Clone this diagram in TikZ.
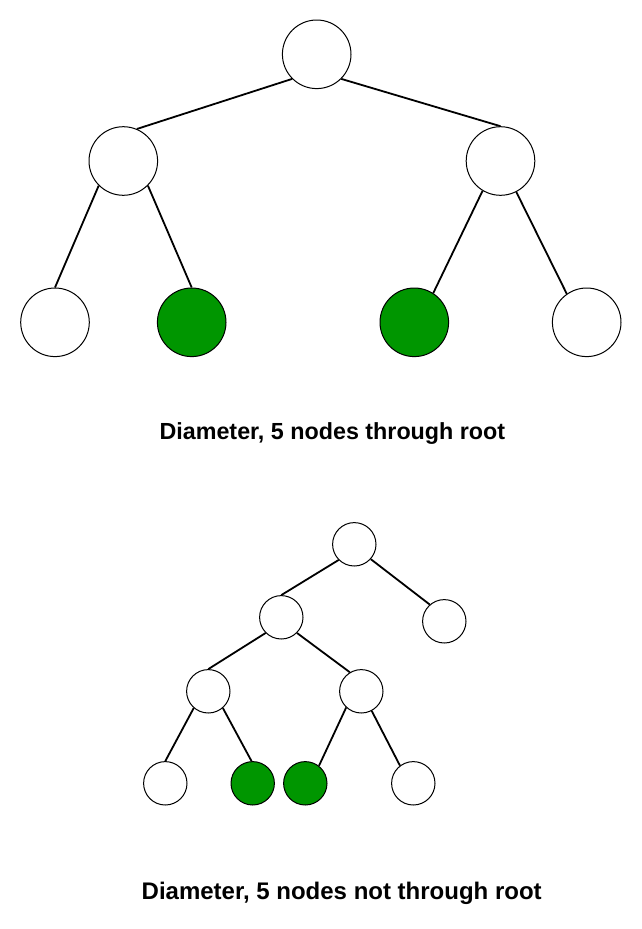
\documentclass[tikz,border=0pt]{standalone}
\usepackage{fontspec}
\setmainfont{Liberation Sans}
\usepackage{tikz}

\definecolor{pathgreen}{RGB}{0,150,0}

\begin{document}
\begin{tikzpicture}[x=1pt,y=-1pt,
    big/.style={draw=black,line width=1pt,fill=white,shape=circle,minimum size=68.6pt,inner sep=0pt},
    small/.style={draw=black,line width=1pt,fill=white,shape=circle,minimum size=43.4pt,inner sep=0pt},
    onpath/.style={fill=pathgreen},
    edge/.style={line width=1.8pt},
    caption/.style={anchor=base,font=\bfseries}]
      \useasboundingbox (0,0) rectangle (642,929);
      % tree with the diameter through the root
      \node[big] (t0) at (316.7,54.3) {};
      \node[big] (tl) at (123.3,161) {};
      \node[big] (tr) at (500.5,161) {};
      \node[big] (tll) at (55,322.3) {};
      \node[big,onpath] (tlr) at (191.7,322.3) {};
      \node[big,onpath] (trl) at (414.3,322.3) {};
      \node[big] (trr) at (586.7,322.3) {};
      \draw[edge] (t0.-135)--(tl.67);
      \draw[edge] (t0.-45)--(tr.90);
      \draw[edge] (tl.-135)--(tll.90);
      \draw[edge] (tl.-45)--(tlr.90);
      \draw[edge] (tr.-121)--(trl.57);
      \draw[edge] (tr.-63)--(trr.125);
      \node[caption,font=\fontsize{23.3}{28}\selectfont\bfseries] (tcap) at (332.4,439.3)
        {Diameter, 5 nodes through root};
      % tree with the diameter not through the root
      \node[small] (b0) at (354.3,544.3) {};
      \node[small] (bl) at (281.3,617.3) {};
      \node[small] (br) at (444.3,621.3) {};
      \node[small] (bll) at (208.3,691.3) {};
      \node[small] (blr) at (361.3,691.3) {};
      \node[small] (blll) at (165.3,783.3) {};
      \node[small,onpath] (bllr) at (252.7,783.3) {};
      \node[small,onpath] (blrl) at (305.3,783.3) {};
      \node[small] (blrr) at (413.3,783.3) {};
      \draw[edge] (b0.-135)--(bl.90);
      \draw[edge] (b0.-42)--(br.131);
      \draw[edge] (bl.-135)--(bll.90);
      \draw[edge] (bl.-45)--(blr.121);
      \draw[edge] (bll.-131)--(blll.90);
      \draw[edge] (bll.-49)--(bllr.93);
      \draw[edge] (blr.-133)--(blrl.52);
      \draw[edge] (blr.-62)--(blrr.127);
      \node[caption,font=\fontsize{24}{28}\selectfont\bfseries] (bcap) at (341.7,899.3)
        {Diameter, 5 nodes not through root};
    \end{tikzpicture}
\end{document}
